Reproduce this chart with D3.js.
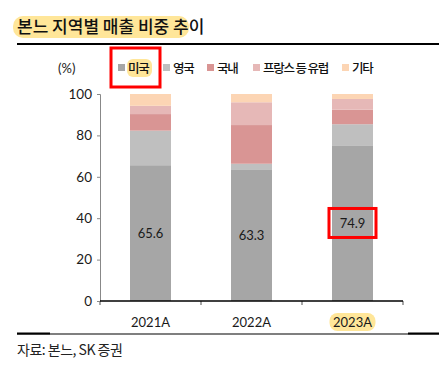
<!DOCTYPE html>
<html>
<head>
<meta charset="utf-8">
<style>
  body { margin: 0; background: #fff; }
  text { font-family: "Noto Sans CJK KR", "Noto Sans", sans-serif; }
</style>
</head>
<body>
<script src="https://cdn.jsdelivr.net/npm/d3@7/dist/d3.min.js"></script>
<script>
var width = 439, height = 375;

// data
var years = ["2021A", "2022A", "2023A"];
var seriesNames = ["미국", "영국", "국내", "프랑스 등 유럽", "기타"];
var usa = [65.6, 63.3, 74.9];
var uk = [16.7, 3.0, 10.5];
var domestic = [8.0, 18.7, 7.0];
var europe = [4.0, 11.0, 5.2];
var others = [5.7, 4.0, 2.4];
var yTicks = [0, 20, 40, 60, 80, 100];
var colors = ["#a6a6a6", "#bfbfbf", "#d99594", "#e6b8b7", "#fcd5b4"];

var rows = years.map(function (y, i) {
    return { year: y, "미국": usa[i], "영국": uk[i], "국내": domestic[i], "프랑스 등 유럽": europe[i], "기타": others[i] };
});

var svg = d3.select('body').append('svg').attr('width', width).attr('height', height);

// title
svg.append('rect').attr('x', 13).attr('y', 16).attr('width', 176).attr('height', 22)
    .attr('rx', 10).attr('fill', '#ffe699');
svg.append('text').attr('x', 17).attr('y', 33).text('본느 지역별 매출 비중 추이')
    .style('font-size', '17px').style('font-weight', 500).attr('fill', '#111');
svg.append('line').attr('x1', 17).attr('x2', 439).attr('y1', 44).attr('y2', 44)
    .attr('stroke', '#000').attr('stroke-width', 2);

// scales
var x = d3.scaleBand().domain(years).range([100, 403]).paddingInner(0.594).paddingOuter(0.297);
var y = d3.scaleLinear().domain([0, 100]).range([301, 94]);

var stack = d3.stack().keys(seriesNames)(rows);

svg.append('g').selectAll('g').data(stack).join('g')
    .attr('fill', function (d, i) { return colors[i]; })
    .selectAll('rect').data(function (d) { return d; }).join('rect')
    .attr('x', function (d) { return x(d.data.year); })
    .attr('width', x.bandwidth())
    .attr('y', function (d) { return y(d[1]); })
    .attr('height', function (d) { return y(d[0]) - y(d[1]); });

// y axis
var yAxis = svg.append('g').attr('transform', 'translate(100,0)')
    .call(d3.axisLeft(y).tickValues(yTicks).tickSize(3).tickPadding(5));
yAxis.select('.domain').attr('stroke', '#888');
yAxis.selectAll('.tick line').attr('stroke', '#888');
yAxis.selectAll('.tick text').style('font-family', 'Lato, sans-serif').style('font-size', '13.5px').attr('fill', '#1a1a1a');

// x axis
var xOuter = d3.scaleLinear().domain([0, 3]).range([100, 403]);
var xAxis = svg.append('g').attr('transform', 'translate(0,301)');
xAxis.selectAll('line.tk').data([0, 1, 2, 3]).join('line').attr('class', 'tk')
    .attr('x1', function (d) { return xOuter(d); }).attr('x2', function (d) { return xOuter(d); })
    .attr('y1', 0).attr('y2', 4).attr('stroke', '#888').attr('stroke-width', 1.5);
xAxis.append('line').attr('x1', 100).attr('x2', 403).attr('y1', 0).attr('y2', 0)
    .attr('stroke', '#000').attr('stroke-width', 1.5);

// highlight behind 2023A
svg.append('rect').attr('x', x('2023A') + x.bandwidth() / 2 - 23).attr('y', 313)
    .attr('width', 46).attr('height', 18).attr('rx', 8).attr('fill', '#ffe699');

svg.append('g').selectAll('text').data(years).join('text')
    .attr('x', function (d) { return x(d) + x.bandwidth() / 2; })
    .attr('y', 327).attr('text-anchor', 'middle')
    .style('font-family', 'Lato, sans-serif').style('font-size', '13px').attr('fill', '#1a1a1a')
    .text(function (d) { return d; });

// value labels (미국)
svg.append('g').selectAll('text').data(stack[0]).join('text')
    .attr('x', function (d) { return x(d.data.year) + x.bandwidth() / 2; })
    .attr('y', function (d) { return y((d[0] + d[1]) / 2) + 5; })
    .attr('text-anchor', 'middle')
    .style('font-family', 'Lato, sans-serif').style('font-size', '13px').attr('fill', '#1a1a1a')
    .text(function (d) { return d.data["미국"].toFixed(1); });

// red box around 74.9
var last = stack[0][2];
svg.append('rect').attr('x', x('2023A') - 3).attr('y', y((last[0] + last[1]) / 2) - 15)
    .attr('width', x.bandwidth() + 6).attr('height', 29)
    .attr('fill', 'none').attr('stroke', '#ff0000').attr('stroke-width', 3);

// (%) label
svg.append('text').attr('x', 58).attr('y', 73).text('(%)')
    .style('font-family', 'Lato, sans-serif').style('font-size', '13px').attr('fill', '#1a1a1a');

// legend
var legendX = [118, 163, 207, 253, 342];
svg.append('rect').attr('x', 127).attr('y', 59).attr('width', 25).attr('height', 18).attr('rx', 6).attr('fill', '#ffe699');
var lg = svg.append('g').selectAll('g').data(seriesNames).join('g')
    .attr('transform', function (d, i) { return 'translate(' + legendX[i] + ',0)'; });
lg.append('rect').attr('x', 0).attr('y', 64).attr('width', 7).attr('height', 7)
    .attr('fill', function (d, i) { return colors[i]; });
lg.append('text').attr('x', 10).attr('y', 72.5).text(function (d) { return d; })
    .style('font-size', '12.5px').style('font-weight', 500).style('letter-spacing', '-1.2px')
    .attr('fill', '#111');
svg.append('rect').attr('x', 111).attr('y', 48).attr('width', 49).attr('height', 39)
    .attr('fill', 'none').attr('stroke', '#ff0000').attr('stroke-width', 3);

// bottom line + source
svg.append('line').attr('x1', 17).attr('x2', 439).attr('y1', 334).attr('y2', 334)
    .attr('stroke', '#000').attr('stroke-width', 1.2);
svg.append('line').attr('x1', 17).attr('x2', 50).attr('y1', 333.5).attr('y2', 333.5)
    .attr('stroke', '#000').attr('stroke-width', 2);
svg.append('line').attr('x1', 408).attr('x2', 439).attr('y1', 333.5).attr('y2', 333.5)
    .attr('stroke', '#000').attr('stroke-width', 2);
svg.append('text').attr('x', 17).attr('y', 355).text('자료: 본느, SK 증권')
    .style('font-size', '14px').style('letter-spacing', '-0.5px').attr('fill', '#222');
</script>
</body>
</html>
